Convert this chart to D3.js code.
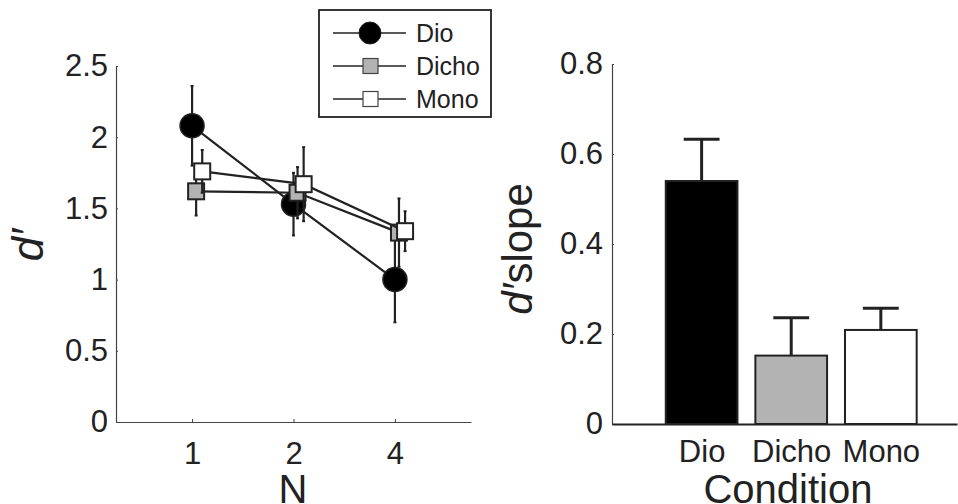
<!DOCTYPE html>
<html>
<head>
<meta charset="utf-8">
<title>d' by N and condition</title>
<script src="https://d3js.org/d3.v7.min.js"></script>
<style>
  body { margin: 0; background: #fff; }
  text { font-family: "Liberation Sans", Arial, Helvetica, sans-serif; fill: #222; }
</style>
</head>
<body>
<script>
// ---- data ----
var setSizes = [1, 2, 4];
var conditions = ["Dio", "Dicho", "Mono"];
var dioMean   = [2.08, 1.53, 1.00];
var dioErr    = [0.28, 0.22, 0.30];
var dichoMean = [1.62, 1.61, 1.33];
var dichoErr  = [0.17, 0.18, 0.24];
var monoMean  = [1.76, 1.67, 1.34];
var monoErr   = [0.15, 0.26, 0.14];
var slopeMean = [0.54, 0.152, 0.209];
var slopeErr  = [0.093, 0.084, 0.048];
var leftYTicks = [0, 0.5, 1, 1.5, 2, 2.5];
var rightYTicks = [0, 0.2, 0.4, 0.6, 0.8];

var width = 958, height = 504;
var ink = "#222";

var svg = d3.select("body").append("svg")
    .attr("width", width)
    .attr("height", height);

// ================= left panel =================
var x1 = d3.scaleLinear().domain([-0.75, 2.75]).range([116, 471]);
var y1 = d3.scaleLinear().domain([0, 2.5]).range([422, 66]);

var series = [
    {name: "Dio",   mean: dioMean,   err: dioErr,   shape: "circle", fill: "#000",    off: 0},
    {name: "Dicho", mean: dichoMean, err: dichoErr, shape: "square", fill: "#b3b3b3", off: 0.04},
    {name: "Mono",  mean: monoMean,  err: monoErr,  shape: "square", fill: "#fff",    off: 0.1}
];

// axes
var gx1 = svg.append("g").attr("transform", "translate(0,422)")
    .call(d3.axisBottom(x1).tickValues(setSizes.map(function(n){ return Math.log2(n); }))
        .tickFormat(function(d){ return Math.pow(2, d); })
        .tickSizeInner(-3).tickSizeOuter(0).tickPadding(20));
var gy1 = svg.append("g").attr("transform", "translate(116,0)")
    .call(d3.axisLeft(y1).tickValues(leftYTicks).tickFormat(d3.format("~g"))
        .tickSizeInner(-2).tickSizeOuter(0).tickPadding(8));
[gx1, gy1].forEach(function(g) {
    g.select(".domain").attr("stroke", "#444").attr("stroke-width", 1.2);
    g.selectAll(".tick line").attr("stroke", "#444");
    g.selectAll(".tick text").style("font-size", "31px").attr("fill", ink);
});

// lines + error bars + markers, drawn series by series
series.forEach(function(s) {
    var g = svg.append("g");
    var pts = setSizes.map(function(n, i) {
        return {x: x1(Math.log2(n) + s.off), y: y1(s.mean[i]),
                lo: y1(s.mean[i] - s.err[i]), hi: y1(s.mean[i] + s.err[i])};
    });
    g.selectAll("line.eb").data(pts).enter().append("line")
        .attr("x1", function(d){ return d.x; }).attr("x2", function(d){ return d.x; })
        .attr("y1", function(d){ return d.lo; }).attr("y2", function(d){ return d.hi; })
        .attr("stroke", ink).attr("stroke-width", 2.2);
    g.selectAll("line.cap").data(pts.concat(pts)).enter().append("line")
        .attr("x1", function(d){ return d.x - 1.5; }).attr("x2", function(d){ return d.x + 1.5; })
        .attr("y1", function(d, i){ return i < pts.length ? d.lo : d.hi; })
        .attr("y2", function(d, i){ return i < pts.length ? d.lo : d.hi; })
        .attr("stroke", ink).attr("stroke-width", 2);
    g.append("path").datum(pts)
        .attr("d", d3.line().x(function(d){ return d.x; }).y(function(d){ return d.y; }))
        .attr("fill", "none").attr("stroke", ink).attr("stroke-width", 2.2);
    if (s.shape === "circle") {
        g.selectAll("circle").data(pts).enter().append("circle")
            .attr("cx", function(d){ return d.x; }).attr("cy", function(d){ return d.y; })
            .attr("r", 12).attr("fill", s.fill).attr("stroke", ink).attr("stroke-width", 1.5);
    } else {
        g.selectAll("rect").data(pts).enter().append("rect")
            .attr("x", function(d){ return d.x - 8; }).attr("y", function(d){ return d.y - 8; })
            .attr("width", 16).attr("height", 16)
            .attr("fill", s.fill).attr("stroke", ink).attr("stroke-width", 2);
    }
});

// axis labels
svg.append("text").attr("x", 293).attr("y", 503).attr("text-anchor", "middle")
    .style("font-size", "40px").text("N");
svg.append("text").attr("transform", "translate(43,245) rotate(-90)")
    .attr("text-anchor", "middle").style("font-size", "44px").style("font-style", "italic")
    .text("d\u2032");

// legend
var leg = svg.append("g");
leg.append("rect").attr("x", 319).attr("y", 10).attr("width", 172).attr("height", 107)
    .attr("fill", "#fff").attr("stroke", ink).attr("stroke-width", 1.8);
series.forEach(function(s, i) {
    var cy = 33 + i * 33;
    leg.append("line").attr("x1", 333).attr("x2", 406).attr("y1", cy).attr("y2", cy)
        .attr("stroke", ink).attr("stroke-width", 1.5);
    if (s.shape === "circle") {
        leg.append("circle").attr("cx", 370).attr("cy", cy).attr("r", 11)
            .attr("fill", s.fill).attr("stroke", ink);
    } else {
        leg.append("rect").attr("x", 363).attr("y", cy - 7.5).attr("width", 15).attr("height", 15)
            .attr("fill", s.fill).attr("stroke", "#444").attr("stroke-width", 1.2);
    }
    leg.append("text").attr("x", 416).attr("y", cy + 9).style("font-size", "25px").text(s.name);
});

// ================= right panel =================
var x2 = d3.scaleLinear().domain([0, 3.85]).range([612, 957]);
var y2 = d3.scaleLinear().domain([0, 0.8]).range([424, 64]);
var barW = x2(0.8) - x2(0);

var gy2 = svg.append("g").attr("transform", "translate(612,0)")
    .call(d3.axisLeft(y2).tickValues(rightYTicks).tickFormat(d3.format("~g"))
        .tickSizeInner(-2).tickSizeOuter(0).tickPadding(9));
var gx2 = svg.append("g").attr("transform", "translate(0,424)")
    .call(d3.axisBottom(x2).tickValues([1, 2, 3])
        .tickFormat(function(d){ return conditions[d - 1]; })
        .tickSizeInner(0).tickSizeOuter(0).tickPadding(16));
[gx2, gy2].forEach(function(g) {
    g.select(".domain").attr("stroke", "#444").attr("stroke-width", 1.2);
    g.selectAll(".tick line").attr("stroke", "#444");
    g.selectAll(".tick text").style("font-size", "31px").attr("fill", ink);
});
gx2.select(".domain").attr("stroke", ink).attr("stroke-width", 2);

var barFill = ["#000", "#b3b3b3", "#fff"];
var bars = conditions.map(function(c, i) {
    return {i: i + 1, v: slopeMean[i], e: slopeErr[i], fill: barFill[i]};
});

var gb = svg.append("g");
gb.selectAll("line.eb").data(bars).enter().append("line")
    .attr("x1", function(d){ return x2(d.i); }).attr("x2", function(d){ return x2(d.i); })
    .attr("y1", function(d){ return y2(d.v); }).attr("y2", function(d){ return y2(d.v + d.e); })
    .attr("stroke", ink).attr("stroke-width", 3);
gb.selectAll("line.cap").data(bars).enter().append("line")
    .attr("x1", function(d){ return x2(d.i) - barW / 4; }).attr("x2", function(d){ return x2(d.i) + barW / 4; })
    .attr("y1", function(d){ return y2(d.v + d.e); }).attr("y2", function(d){ return y2(d.v + d.e); })
    .attr("stroke", ink).attr("stroke-width", 3);
gb.selectAll("rect").data(bars).enter().append("rect")
    .attr("x", function(d){ return x2(d.i) - barW / 2; })
    .attr("y", function(d){ return y2(d.v); })
    .attr("width", barW)
    .attr("height", function(d){ return y2(0) - y2(d.v); })
    .attr("fill", function(d){ return d.fill; })
    .attr("stroke", ink).attr("stroke-width", 2);

svg.append("text").attr("x", 788).attr("y", 503).attr("text-anchor", "middle")
    .style("font-size", "40px").text("Condition");
var yl = svg.append("text").attr("transform", "translate(532,249) rotate(-90)")
    .attr("text-anchor", "middle").style("font-size", "42px");
yl.append("tspan").style("font-style", "italic").text("d\u2032");
yl.append("tspan").text("slope");
</script>
</body>
</html>
